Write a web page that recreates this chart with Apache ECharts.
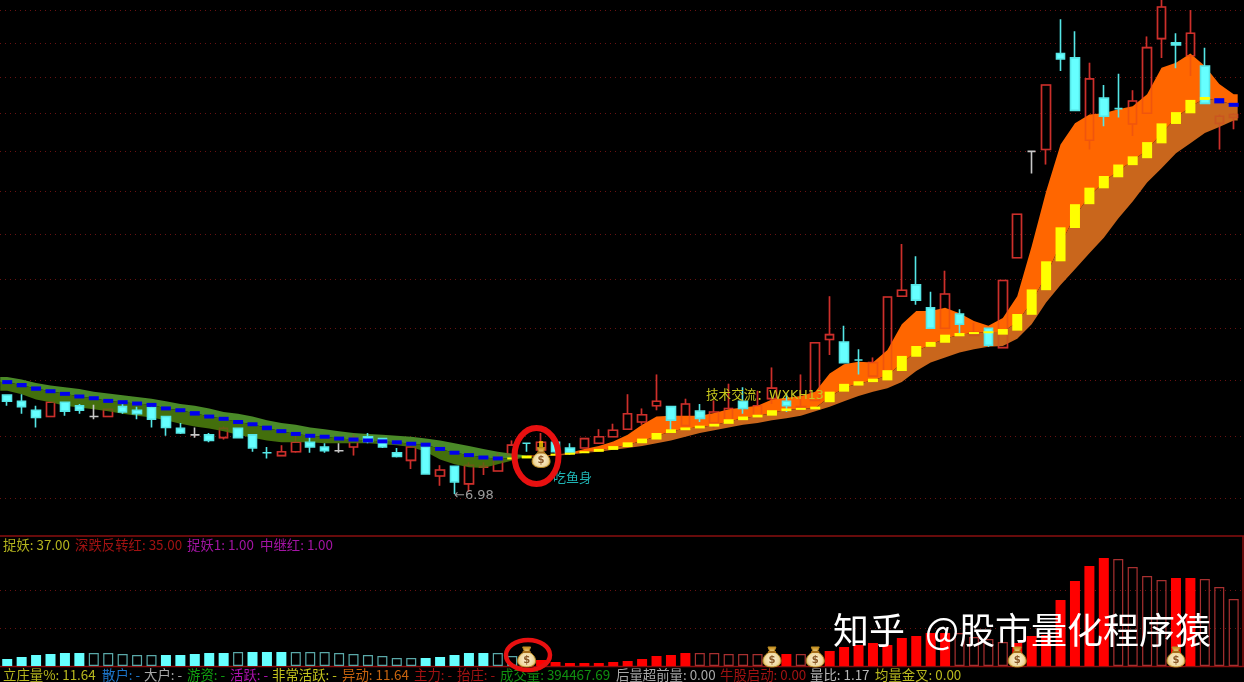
<!DOCTYPE html>
<html><head><meta charset="utf-8">
<style>html,body{margin:0;padding:0;background:#000;overflow:hidden}#c{width:1244px;height:682px;filter:blur(0.45px)}</style>
<script src="https://cdn.jsdelivr.net/npm/echarts@6/dist/echarts.min.js"></script>
</head><body><div id="c"></div>
<script>
const opens=[8.03,7.96,7.86,7.79,7.95,7.91,7.79,7.79,7.90,7.86,7.89,7.79,7.66,7.59,7.59,7.56,7.66,7.59,7.40,7.37,7.41,7.51,7.46,7.42,7.46,7.57,7.55,7.40,7.32,7.46,7.16,7.26,7.08,7.25,7.21,7.38,7.50,7.43,7.51,7.45,7.45,7.50,7.57,7.65,7.73,7.91,7.90,7.69,7.85,7.72,7.75,7.96,7.78,7.99,7.96,7.88,7.97,8.69,8.66,8.44,8.25,8.31,9.24,9.39,9.09,8.83,9.01,8.74,8.83,8.59,9.76,11.35,11.38,13.04,12.96,11.53,12.24,12.06,11.80,11.98,13.32,13.24,13.00,12.81,11.81,11.91];
const closes=[7.96,7.90,7.78,7.95,7.85,7.86,7.79,7.87,7.84,7.82,7.76,7.67,7.61,7.59,7.53,7.66,7.56,7.45,7.40,7.41,7.51,7.46,7.42,7.42,7.56,7.52,7.46,7.36,7.46,7.18,7.22,7.10,7.27,7.26,7.35,7.48,7.50,7.51,7.41,7.40,7.55,7.57,7.64,7.82,7.81,7.96,7.75,7.93,7.77,7.84,7.88,7.88,7.91,8.11,7.91,7.90,8.65,8.75,8.41,8.44,8.41,9.23,9.32,9.19,8.83,9.27,8.88,8.78,8.62,9.45,10.38,11.35,12.47,12.94,12.03,12.58,11.93,12.06,12.19,13.15,13.93,13.20,13.42,12.15,11.93,11.96];
const lows=[7.91,7.82,7.67,7.79,7.80,7.82,7.76,7.79,7.82,7.76,7.67,7.58,7.60,7.56,7.51,7.54,7.56,7.41,7.34,7.37,7.40,7.40,7.40,7.40,7.37,7.50,7.45,7.35,7.23,7.18,7.06,6.98,7.00,7.17,7.21,7.38,7.41,7.43,7.39,7.38,7.45,7.50,7.57,7.65,7.70,7.86,7.64,7.69,7.73,7.66,7.75,7.82,7.78,7.93,7.84,7.88,7.97,8.50,8.41,8.27,8.25,8.31,9.24,9.13,8.82,8.83,8.77,8.74,8.60,8.59,9.76,11.00,11.14,12.72,12.03,11.38,11.76,11.91,11.60,11.98,12.96,12.77,12.63,12.15,11.38,11.71];
const highs=[8.03,8.04,7.91,7.95,7.95,7.93,7.92,7.87,7.96,7.90,7.93,7.79,7.72,7.67,7.61,7.68,7.66,7.59,7.46,7.48,7.61,7.57,7.50,7.50,7.60,7.61,7.55,7.45,7.51,7.46,7.27,7.26,7.30,7.30,7.40,7.53,7.50,7.61,7.51,7.50,7.55,7.65,7.71,8.04,7.88,8.27,7.90,7.99,7.93,7.97,8.16,8.12,8.08,8.35,8.05,8.27,8.65,9.24,8.86,8.57,8.47,9.23,9.95,9.78,9.30,9.58,9.07,8.90,8.83,9.45,10.38,11.35,12.47,13.69,13.46,12.87,12.47,12.67,12.38,13.36,14.07,13.42,13.87,13.15,11.96,11.98];
const cyanDoji=[18,36,59,77];
const bandUpper=[8.24,8.21,8.17,8.14,8.12,8.10,8.07,8.05,8.03,8.01,7.99,7.96,7.93,7.91,7.88,7.84,7.82,7.79,7.75,7.72,7.70,7.67,7.65,7.63,7.61,7.60,7.59,7.58,7.57,7.55,7.53,7.50,7.47,7.44,7.41,7.39,7.37,7.37,7.38,7.40,7.44,7.47,7.52,7.59,7.70,7.79,7.80,7.80,7.80,7.83,7.87,7.89,7.91,7.98,8.00,8.02,8.07,8.28,8.39,8.42,8.41,8.56,8.88,9.05,9.05,9.09,9.02,8.92,8.86,8.96,9.24,9.92,10.72,11.46,11.81,11.96,11.98,12.05,12.10,12.31,12.78,12.87,13.04,12.81,12.49,12.31];
const bandLower=[8.08,8.04,7.98,7.95,7.91,7.89,7.87,7.85,7.82,7.80,7.78,7.75,7.71,7.68,7.66,7.63,7.59,7.56,7.53,7.51,7.51,7.51,7.50,7.50,7.50,7.50,7.49,7.48,7.46,7.41,7.33,7.28,7.25,7.24,7.28,7.32,7.36,7.36,7.37,7.38,7.40,7.41,7.43,7.45,7.47,7.50,7.53,7.57,7.61,7.64,7.67,7.70,7.72,7.75,7.77,7.80,7.85,7.90,7.96,8.02,8.07,8.11,8.18,8.31,8.41,8.47,8.53,8.57,8.60,8.61,8.70,8.88,9.16,9.39,9.60,9.82,10.04,10.32,10.57,10.86,11.08,11.32,11.48,11.65,11.75,11.86];
const dashTop=[8.20,8.17,8.13,8.09,8.06,8.03,8.01,7.98,7.96,7.95,7.93,7.90,7.87,7.85,7.81,7.78,7.75,7.72,7.69,7.64,7.61,7.59,7.58,7.56,7.55,7.54,7.53,7.52,7.51,7.50,7.46,7.42,7.39,7.36,7.35,7.35,7.37,7.38,7.39,7.40,7.41,7.44,7.47,7.51,7.55,7.61,7.65,7.67,7.69,7.71,7.76,7.79,7.81,7.86,7.88,7.88,7.90,8.07,8.16,8.19,8.22,8.32,8.49,8.61,8.66,8.75,8.77,8.78,8.79,8.82,9.01,9.33,9.71,10.19,10.53,10.78,10.96,11.14,11.27,11.50,11.81,12.00,12.21,12.26,12.24,12.15];
const dashBottom=[8.16,8.12,8.08,8.06,8.03,8.00,7.98,7.95,7.94,7.92,7.91,7.86,7.85,7.80,7.77,7.75,7.71,7.69,7.64,7.62,7.59,7.57,7.56,7.54,7.53,7.52,7.51,7.50,7.48,7.47,7.42,7.38,7.36,7.34,7.33,7.33,7.34,7.36,7.37,7.38,7.40,7.41,7.43,7.46,7.50,7.54,7.61,7.64,7.66,7.68,7.71,7.75,7.78,7.80,7.85,7.87,7.87,7.95,8.07,8.14,8.18,8.20,8.31,8.48,8.60,8.65,8.73,8.76,8.77,8.75,8.80,9.00,9.32,9.71,10.18,10.53,10.77,10.94,11.13,11.24,11.48,11.80,11.98,12.21,12.15,12.10];
const volumes=[1.22,1.57,1.91,2.09,2.26,2.26,2.26,2.26,2.09,1.91,1.91,1.91,1.91,2.09,2.26,2.26,2.44,2.44,2.44,2.44,2.44,2.44,2.44,2.26,2.09,1.91,1.74,1.39,1.39,1.39,1.57,1.91,2.26,2.26,2.26,1.74,2.09,1.04,0.70,0.52,0.52,0.52,0.70,0.87,1.22,1.74,1.91,2.26,2.26,2.26,2.09,2.09,2.09,2.09,2.09,2.09,2.09,2.61,3.31,3.65,4.00,3.65,4.87,5.22,5.74,5.74,5.74,5.05,4.70,4.18,4.00,5.22,5.39,11.48,14.79,17.40,18.79,18.62,17.23,15.66,14.96,15.31,15.31,15.14,13.75,11.64];
const hollowVolumes=[6,7,8,9,10,16,20,21,22,23,24,25,26,27,28,34,35,36,48,49,50,51,52,53,55,66,67,68,69,77,78,79,80,83,84,85];
const priceTicks=[6.94,7.57,8.20,8.83,9.46,10.09,10.72,11.35,11.98,12.61,13.24,13.87];
const volumeTicks=[6.6,13.1];
const bagsPrice=[[37,7.35]];
const bagsVolume=[[36,1.57],[53,1.57],[56,1.57],[70,1.57],[81,1.57]];
const signalArrow=[[37,7.47]];
const upperLegend=[["捉妖: 37.00",3,"#b4b41e"],["深跌反转红: 35.00",75,"#a01212"],["捉妖1: 1.00",187,"#a314a3"],["中继红: 1.00",260,"#a314a3"]];
const lowerLegend=[["立庄量%: 11.64",3,"#b9b91e"],["散户: -",102,"#1c74c8"],["大户: -",144,"#a8a8a8"],["游资: -",187,"#10a010"],["活跃: -",230,"#b012b0"],["非常活跃: -",272,"#c4c41e"],["异动: 11.64",342,"#c8640f"],["主力: -",414,"#a01212"],["抬庄: -",457,"#a01212"],["成交量: 394467.69",500,"#109010"],["后量超前量: 0.00",616,"#a8a8a8"],["牛股启动: 0.00",720,"#a01212"],["量比: 1.17",810,"#b8b8b8"],["均量金叉: 0.00",875,"#b9b91e"]];

const days=opens.map((_,i)=>String(i));
const CJK='"Noto Sans CJK SC","Noto Sans",sans-serif';
const isDoji=i=>opens[i]===closes[i];
const rows=f=>days.map((_,i)=>i).filter(f).map(i=>[i,opens[i],closes[i],lows[i],highs[i]]);
const candle=(name,data,col,z,extra)=>({name,type:'candlestick',xAxisIndex:0,yAxisIndex:0,z,barWidth:9,silent:true,
  encode:{x:0,y:[1,2,3,4]},data,
  itemStyle:Object.assign({color:col.fill,color0:col.fill,borderColor:col.line,borderColor0:col.line,borderColorDoji:col.line,borderWidth:1.6},extra||{})});
const redStyle={fill:'transparent',line:'#cc302c'};
const redRows=rows(i=>closes[i]>opens[i]);

function renderBand(params,api){
  if(params.dataIndex!==0) return null;
  const mid=i=>(dashTop[i]+dashBottom[i])/2;
  const poly=(from,to,a,b,fill,extL,extR)=>{
    const pts=[],back=[];
    for(let i=from;i<=to;i++) pts.push(api.coord([i,a(i)]));
    for(let i=to;i>=from;i--) back.push(api.coord([i,b(i)]));
    if(extL){pts.unshift([pts[0][0]-extL,pts[0][1]]);back.push([back[back.length-1][0]-extL,back[back.length-1][1]]);}
    if(extR){pts.push([pts[pts.length-1][0]+extR,pts[pts.length-1][1]]);back.unshift([back[0][0]+extR,back[0][1]]);}
    return {type:'polygon',shape:{points:pts.concat(back)},style:{fill},silent:true};
  };
  const up=i=>bandUpper[i],lo=i=>bandLower[i];
  return {type:'group',children:[
    poly(0,36,up,mid,'#4a8a28',7,0),
    poly(0,36,mid,lo,'#436f0c',7,0),
    poly(36,85,up,mid,'#ff6600',0,4),
    poly(36,85,mid,lo,'#c9661c',0,4)
  ]};
}
function renderDash(params,api){
  const i=api.value(0);
  const a=api.coord([i,api.value(1)]),b=api.coord([i,api.value(2)]);
  const rising=i>0&&dashTop[i]>=dashTop[i-1];
  const h=b[1]-a[1],hh=rising?Math.max(h,2):Math.max(h,4);
  return {type:'rect',shape:{x:a[0]-5,y:(a[1]+b[1])/2-hh/2,width:10,height:hh},style:{fill:rising?'#ffff00':'#0000ee'}};
}
function renderBag(params,api){
  const p=api.coord([api.value(0),api.value(1)]);
  const x=p[0],y=p[1];
  return {type:'group',x,y,children:[
    {type:'path',shape:{pathData:'M-4,-10 L4,-10 L2,-5 C7,-3 9,1 9,4 C9,8 5,10 0,10 C-5,10 -9,8 -9,4 C-9,1 -7,-3 -2,-5 Z',x:-9,y:-10,width:18,height:20,layout:'center'},
      style:{fill:{type:'radial',x:0.5,y:0.62,r:0.6,colorStops:[{offset:0,color:'#fff3d8'},{offset:0.6,color:'#efd9a0'},{offset:1,color:'#d09a2a'}]},stroke:'#b98a22',lineWidth:1}},
    {type:'rect',shape:{x:-4,y:-6,width:8,height:2},style:{fill:'#a8701c'}},
    {type:'text',style:{text:'$',x:0,y:3,fill:'#8a5a28',font:'bold 10px "DejaVu Sans"',align:'center',verticalAlign:'middle'}}
  ]};
}

const hollowSet=new Set(hollowVolumes);
const volumeData=volumes.map((v,i)=>{
  const col=i<37?'#66ffff':'#ff0000',hollow=hollowSet.has(i);
  return {value:v,itemStyle:hollow?{color:'transparent',borderColor:i<37?'#5aa8a8':'#a83030',borderWidth:1.2}:{color:col}};
});
const txt=(text,x,y,fill,size,z,font)=>({type:'text',z:z||20,silent:true,x,y,style:{text,fill,font:(size||13.4)+'px '+(font||CJK),verticalAlign:'middle'}});
const line=(x1,y1,x2,y2)=>({type:'line',z:1,silent:true,shape:{x1,y1,x2,y2},style:{stroke:'#8a0f0f',lineWidth:1.5}});
const ring=(cx,cy,rx,ry,w)=>({type:'ellipse',z:30,silent:true,shape:{cx,cy,rx,ry},style:{fill:'transparent',stroke:'#e81010',lineWidth:w}});
const gridDots={type:[1,4],color:'#6a1212',width:1};

const chart=echarts.init(document.getElementById('c'),null,{renderer:'canvas'});
chart.setOption({
  animation:false,backgroundColor:'#000',
  grid:[{left:-0.9,top:0,width:1241.8,height:536},{left:-0.9,top:536,width:1241.8,height:130}],
  xAxis:[{type:'category',gridIndex:0,data:days,show:false},{type:'category',gridIndex:1,data:days,show:false}],
  yAxis:[{type:'log',gridIndex:0,min:6.575,max:14.07,show:false,splitLine:{show:false}},
         {type:'value',gridIndex:1,min:0,max:22.62,show:false,splitLine:{show:false}}],
  series:[
    Object.assign(candle('阳线',redRows,redStyle,2),{markLine:{silent:true,symbol:'none',z:1,label:{show:false},
      lineStyle:gridDots,data:priceTicks.map(v=>({yAxis:v}))}}),
    {name:'通道',type:'custom',xAxisIndex:0,yAxisIndex:0,z:3,silent:true,clip:true,renderItem:renderBand,encode:{x:0,y:1},data:days.map((_,i)=>[i,bandUpper[i]])},
    candle('阳线叠加',redRows,redStyle,4,{opacity:0.3}),
    candle('阴线',rows(i=>closes[i]<opens[i]),{fill:'#66ffff',line:'#55e6e6'},5),
    candle('十字白',rows(i=>isDoji(i)&&!cyanDoji.includes(i)),{fill:'#cccccc',line:'#c8c8c8'},5),
    candle('十字青',rows(i=>isDoji(i)&&cyanDoji.includes(i)),{fill:'#55e6e6',line:'#55e6e6'},5),
    {name:'均线块',type:'custom',xAxisIndex:0,yAxisIndex:0,z:6,silent:true,renderItem:renderDash,encode:{x:0,y:[1,2]},data:days.map((_,i)=>[i,dashTop[i],dashBottom[i]])},
    {name:'信号箭头',type:'scatter',xAxisIndex:0,yAxisIndex:0,z:7,silent:true,symbol:'rect',symbolSize:[4,10],itemStyle:{color:'#ffd000'},data:signalArrow},
    {name:'信号',type:'custom',xAxisIndex:0,yAxisIndex:0,z:8,silent:true,renderItem:renderBag,encode:{x:0,y:1},data:bagsPrice},
    {name:'量',type:'bar',xAxisIndex:1,yAxisIndex:1,z:2,silent:true,barWidth:10,data:volumeData,
      markLine:{silent:true,symbol:'none',z:1,label:{show:false},lineStyle:gridDots,data:volumeTicks.map(v=>({yAxis:v}))}},
    {name:'信号量',type:'custom',xAxisIndex:1,yAxisIndex:1,z:8,silent:true,renderItem:renderBag,encode:{x:0,y:1},data:bagsVolume}
  ],
  graphic:{elements:[
    line(0,536,1244,536),line(0,666.5,1244,666.5),line(1243,536,1243,667),
    txt('技术交流：WXKH13',706,396,'#c8c81e',12.6,20,'"DejaVu Sans","Noto Sans CJK SC"'),
    txt('吃鱼身',553,477,'#1fb4b4',13),
    txt('←6.98',454,496,'#9a9a9a',13,20,'"DejaVu Sans"'),
    ...upperLegend.map(d=>txt(d[0],d[1],545,d[2])),
    ...lowerLegend.map(d=>txt(d[0],d[1],675,d[2])),
    ring(536.5,456,22,28,6),ring(528,655,22,15,4.5),
    txt('知乎',833,630,'#ffffff',36,40),
    txt('@股市量化程序猿',925,630,'#ffffff',36,40)
  ]}
});
</script></body></html>
